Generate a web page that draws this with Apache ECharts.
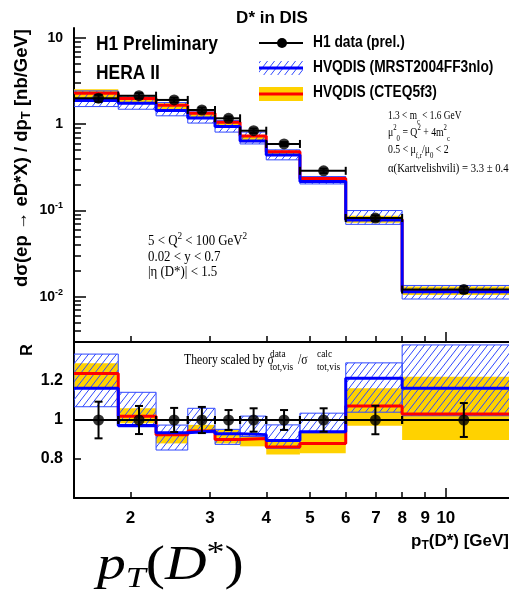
<!DOCTYPE html>
<html>
<head>
<meta charset="utf-8">
<script src="https://cdn.jsdelivr.net/npm/echarts@6/dist/echarts.min.js"></script>
<style>
  html, body { margin: 0; padding: 0; background: #fff; }
  #chart { width: 509px; height: 592px; }
</style>
</head>
<body>
<div id="chart"></div>
<script>
// pT(D*) bins [GeV]
const binEdges = [1.5, 1.88, 2.28, 2.68, 3.08, 3.5, 4.0, 4.75, 6.0, 8.0, 15.0]
const binCenters = [1.70, 2.09, 2.50, 2.88, 3.30, 3.75, 4.38, 5.36, 6.98, 10.96]

// H1 data (prel.), dsigma/dpT [nb/GeV]
const dataXsec = [2.0, 2.14, 1.91, 1.46, 1.17, 0.84, 0.59, 0.288, 0.0817, 0.0121]
const dataRelErr = [0.094, 0.072, 0.062, 0.067, 0.051, 0.06, 0.051, 0.06, 0.073, 0.087]

// HVQDIS (MRST2004FF3nlo)
const mrstHigh = [2.43, 2.13, 1.78, 1.39, 1.10, 0.81, 0.504, 0.247, 0.0997, 0.0135]
const mrstCentral = [1.88, 1.75, 1.44, 1.18, 0.94, 0.64, 0.44, 0.216, 0.0776, 0.0114]
const mrstLow = [1.60, 1.49, 1.25, 1.03, 0.81, 0.59, 0.386, 0.203, 0.069, 0.0094]

// HVQDIS (CTEQ5f3)
const cteqHigh = [2.54, 2.09, 1.75, 1.39, 1.08, 0.75, 0.494, 0.243, 0.0866, 0.0131]
const cteqCentral = [2.29, 1.98, 1.66, 1.34, 1.05, 0.73, 0.478, 0.235, 0.0788, 0.0118]
const cteqLow = [1.88, 1.75, 1.44, 1.18, 0.94, 0.62, 0.44, 0.216, 0.0718, 0.0105]

// ratio panel R
const ratioData = [1, 1, 1, 1, 1, 1, 1, 1, 1, 1]
const ratioMrstHigh = [1.338, 1.142, 0.974, 1.06, 0.952, 1.02, 0.975, 1.035, 1.293, 1.385]
const ratioMrstCentral = [1.163, 0.972, 0.935, 0.944, 0.93, 0.925, 0.895, 0.94, 1.214, 1.163]
const ratioMrstLow = [1.068, 0.965, 0.846, 0.935, 0.875, 0.915, 0.855, 0.935, 1.04, 1.022]
const ratioCteqHigh = [1.291, 1.06, 0.935, 0.975, 0.95, 0.92, 0.895, 0.94, 1.163, 1.222]
const ratioCteqCentral = [1.239, 1.019, 0.925, 0.943, 0.90, 0.905, 0.862, 0.88, 1.072, 1.031]
const ratioCteqLow = [1.163, 0.983, 0.88, 0.935, 0.88, 0.865, 0.823, 0.83, 0.97, 0.897]

// ticks
const xTickLabels = [2, 3, 4, 5, 6, 7, 8, 9, 10]
const xMajorTicks = [10]
const yDecades = [-3, -2, -1, 0, 1]
const yMinorSteps = [2, 3, 4, 5, 6, 7, 8, 9]
const ratioTicks = [0.8, 1, 1.2]

const lg = Math.log10
const id = (v) => v
const xMin = lg(1.5)
const xMax = lg(13.8)
const yMin = -2.525
const yMax = 1.115

const BLACK = '#000'
const YELLOW = '#ffd200'
const RED = '#ff0000'
const BLUE = '#0000ff'
const HATCH = '#3048ff'
const SANS = 'Liberation Sans'
const SERIF = 'Liberation Serif'

// hatch pattern for the MRST band
const makeHatch = () => {
  const w = 7, h = 9
  const c = document.createElement('canvas')
  c.width = w
  c.height = h
  const ctx = c.getContext('2d')
  ctx.strokeStyle = HATCH
  ctx.lineWidth = 1
  ctx.beginPath()
  for (const dx of [-w, 0, w]) {
    ctx.moveTo(dx, h)
    ctx.lineTo(dx + w, 0)
  }
  ctx.stroke()
  return c
}
const hatch = { image: makeHatch(), repeat: 'repeat' }

// helpers building series data from the arrays
const bandItems = (low, high, tf) =>
  low.map((v, i) => [lg(binEdges[i]), lg(binEdges[i + 1]), tf(v), tf(high[i])])
const stepItems = (vals, tf) =>
  binEdges.map((e, i) => [lg(e), tf(vals[Math.min(i, vals.length - 1)])])
const dataItems = (vals, tf) =>
  vals.map((v, i) => [lg(binEdges[i]), lg(binEdges[i + 1]), lg(binCenters[i]), tf(v),
    tf(v * (1 - dataRelErr[i])), tf(v * (1 + dataRelErr[i]))])

const bandRender = (fill, stroke) => (params, api) => {
  const p0 = api.coord([api.value(0), api.value(3)])
  const p1 = api.coord([api.value(1), api.value(2)])
  return {
    type: 'rect',
    shape: { x: p0[0], y: p0[1], width: p1[0] - p0[0], height: p1[1] - p0[1] },
    style: { fill, stroke, lineWidth: stroke ? 1 : 0 }
  }
}

const dataRender = (params, api) => {
  const l = api.coord([api.value(0), api.value(3)])
  const r = api.coord([api.value(1), api.value(3)])
  const lo = api.coord([api.value(2), api.value(4)])
  const hi = api.coord([api.value(2), api.value(5)])
  const st = { stroke: BLACK, lineWidth: 2 }
  const seg = (x1, y1, x2, y2) => ({ type: 'line', shape: { x1, y1, x2, y2 }, style: st })
  const cx = lo[0]
  return {
    type: 'group',
    children: [
      seg(l[0], l[1], r[0], r[1]),
      seg(l[0], l[1] - 4, l[0], l[1] + 4),
      seg(r[0], r[1] - 4, r[0], r[1] + 4),
      seg(cx, lo[1], cx, hi[1]),
      seg(cx - 4, lo[1], cx + 4, lo[1]),
      seg(cx - 4, hi[1], cx + 4, hi[1])
    ]
  }
}

const panelSeries = (xi, yi, tf, sets) => [
  {
    type: 'custom', xAxisIndex: xi, yAxisIndex: yi, clip: true, z: 1,
    renderItem: bandRender(YELLOW, null),
    encode: { x: [0, 1], y: [2, 3] },
    data: bandItems(sets.cteqLow, sets.cteqHigh, tf)
  },
  {
    type: 'custom', xAxisIndex: xi, yAxisIndex: yi, clip: true, z: 2,
    renderItem: bandRender(hatch, HATCH),
    encode: { x: [0, 1], y: [2, 3] },
    data: bandItems(sets.mrstLow, sets.mrstHigh, tf)
  },
  {
    type: 'line', xAxisIndex: xi, yAxisIndex: yi, step: 'end', symbol: 'none', z: 3,
    lineStyle: { color: RED, width: 3 },
    data: stepItems(sets.cteqCentral, tf)
  },
  {
    type: 'line', xAxisIndex: xi, yAxisIndex: yi, step: 'end', symbol: 'none', z: 4,
    lineStyle: { color: BLUE, width: 3 },
    data: stepItems(sets.mrstCentral, tf)
  },
  {
    type: 'custom', xAxisIndex: xi, yAxisIndex: yi, clip: true, z: 5,
    renderItem: dataRender,
    encode: { x: [0, 1, 2], y: [3, 4, 5] },
    data: dataItems(sets.data, tf)
  },
  {
    type: 'scatter', xAxisIndex: xi, yAxisIndex: yi, z: 6,
    symbol: 'circle', symbolSize: 11,
    itemStyle: { color: BLACK },
    data: sets.data.map((v, i) => [lg(binCenters[i]), tf(v)])
  }
]

const xMinorVals = xTickLabels.filter((v) => !xMajorTicks.includes(v)).map(lg)
const yMinorVals = []
yDecades.forEach((d) => yMinorSteps.forEach((k) => {
  const v = d + lg(k)
  if (v > yMin && v < yMax) yMinorVals.push(v)
}))
const yMajorVals = yDecades.filter((d) => d >= yMin && d <= yMax)

const axisLineStyle = { color: BLACK, width: 2 }
const xAxisFor = (gridIndex, ticks, len, withLine, withLabels) => ({
  type: 'value', gridIndex, position: 'bottom', min: xMin, max: xMax,
  splitLine: { show: false },
  axisLine: { show: withLine, onZero: false, lineStyle: axisLineStyle },
  axisTick: { show: true, inside: true, length: len, customValues: ticks, lineStyle: { color: BLACK, width: 1.5 } },
  axisLabel: withLabels ? {
    customValues: xTickLabels.map(lg),
    formatter: (v) => String(Math.round(Math.pow(10, v))),
    color: BLACK, fontFamily: SANS, fontWeight: 'bold', fontSize: 17, margin: 12
  } : { show: false }
})

const supLabel = (v) => {
  if (v === 0) return '{b|1}'
  if (v === 1) return '{b|10}'
  return '{b|10}{s|' + v + '}'
}

const option = {
  animation: false,
  backgroundColor: '#fff',
  grid: [
    { left: 74, top: 28, width: 435, height: 314 },
    { left: 74, top: 342, width: 435, height: 156 }
  ],
  xAxis: [
    xAxisFor(0, xMinorVals, 6, true, false),
    xAxisFor(0, xMajorTicks.map(lg), 10, false, false),
    xAxisFor(1, xMinorVals, 6, true, true),
    xAxisFor(1, xMajorTicks.map(lg), 10, false, false)
  ],
  yAxis: [
    {
      type: 'value', gridIndex: 0, position: 'left', min: yMin, max: yMax,
      splitLine: { show: false },
      axisLine: { show: true, onZero: false, lineStyle: axisLineStyle },
      axisTick: { inside: true, length: 12, customValues: yMajorVals, lineStyle: { color: BLACK, width: 1.5 } },
      axisLabel: {
        customValues: yMajorVals,
        formatter: supLabel,
        margin: 11,
        rich: {
          b: { fontFamily: SANS, fontWeight: 'bold', fontSize: 14, color: BLACK, lineHeight: 18 },
          s: { fontFamily: SANS, fontWeight: 'bold', fontSize: 9, color: BLACK, lineHeight: 8, verticalAlign: 'top' }
        }
      }
    },
    {
      type: 'value', gridIndex: 0, position: 'left', min: yMin, max: yMax,
      splitLine: { show: false },
      axisLine: { show: false, onZero: false },
      axisTick: { inside: true, length: 7, customValues: yMinorVals, lineStyle: { color: BLACK, width: 1.5 } },
      axisLabel: { show: false }
    },
    {
      type: 'value', gridIndex: 1, position: 'left', min: 0.6, max: 1.4,
      splitLine: { show: false },
      axisLine: { show: true, onZero: false, lineStyle: axisLineStyle },
      axisTick: { inside: true, length: 7, customValues: ratioTicks, lineStyle: { color: BLACK, width: 1.5 } },
      axisLabel: {
        customValues: ratioTicks,
        formatter: (v) => (Math.abs(v - 1) < 1e-9 ? '1' : v.toFixed(1)),
        color: BLACK, fontFamily: SANS, fontWeight: 'bold', fontSize: 16, margin: 11
      }
    }
  ],
  series: [
    ...panelSeries(0, 0, lg, {
      cteqLow, cteqHigh, cteqCentral, mrstLow, mrstHigh, mrstCentral, data: dataXsec
    }),
    ...panelSeries(2, 2, id, {
      cteqLow: ratioCteqLow, cteqHigh: ratioCteqHigh, cteqCentral: ratioCteqCentral,
      mrstLow: ratioMrstLow, mrstHigh: ratioMrstHigh, mrstCentral: ratioMrstCentral,
      data: ratioData
    })
  ],
  graphic: []
}

// texts and legend
const txt = (x, y, text, o = {}) => ({
  type: 'text', x, y, z: 100,
  scaleX: o.scaleX || 1,
  rotation: o.rotation || 0,
  style: {
    text,
    fill: BLACK,
    fontFamily: o.family || SANS,
    fontSize: o.size || 14,
    fontWeight: o.weight || 'normal',
    fontStyle: o.style || 'normal',
    lineHeight: o.lineHeight,
    align: o.align || 'left',
    verticalAlign: 'middle',
    textAlign: o.align || 'left',
    textVerticalAlign: 'middle',
    rich: o.rich
  }
})
const richScript = (family, size, weight, lh) => ({
  n: { fontFamily: family, fontSize: size, fontWeight: weight, lineHeight: lh, fill: BLACK },
  sub: { fontFamily: family, fontSize: Math.round(size * 0.68), fontWeight: weight, lineHeight: 6, verticalAlign: 'bottom', fill: BLACK },
  sup: { fontFamily: family, fontSize: Math.round(size * 0.68), fontWeight: weight, lineHeight: 6, verticalAlign: 'top', fill: BLACK }
})
const serifRich = richScript(SERIF, 13, 'normal', 20)
const serifRich14 = richScript(SERIF, 14, 'normal', 20)
const serifSmall = { family: SERIF, size: 11, scaleX: 0.85 }

const legendX0 = 259
const legendX1 = 303
option.graphic = [
  txt(272, 18, 'D* in DIS', { size: 17, weight: 'bold', align: 'center' }),
  txt(96, 44, 'H1 Preliminary', { size: 20, weight: 'bold', scaleX: 0.87 }),
  txt(96, 73, 'HERA II', { size: 20, weight: 'bold', scaleX: 0.87 }),

  { type: 'line', z: 100, shape: { x1: legendX0, y1: 43, x2: legendX1, y2: 43 }, style: { stroke: BLACK, lineWidth: 2 } },
  { type: 'circle', z: 101, shape: { cx: 282, cy: 43, r: 5 }, style: { fill: BLACK } },
  { type: 'rect', z: 100, shape: { x: legendX0, y: 61, width: legendX1 - legendX0, height: 14 }, style: { fill: hatch } },
  { type: 'line', z: 101, shape: { x1: legendX0, y1: 68, x2: legendX1, y2: 68 }, style: { stroke: BLUE, lineWidth: 3 } },
  { type: 'rect', z: 100, shape: { x: legendX0, y: 87, width: legendX1 - legendX0, height: 14 }, style: { fill: YELLOW } },
  { type: 'line', z: 101, shape: { x1: legendX0, y1: 94, x2: legendX1, y2: 94 }, style: { stroke: RED, lineWidth: 3 } },
  txt(313, 43, 'H1 data (prel.)', { size: 16, weight: 'bold', scaleX: 0.86 }),
  txt(313, 68, 'HVQDIS (MRST2004FF3nlo)', { size: 16, weight: 'bold', scaleX: 0.86 }),
  txt(313, 93, 'HVQDIS (CTEQ5f3)', { size: 16, weight: 'bold', scaleX: 0.86 }),

  txt(388, 116, '{n|1.3 < m}{sub|c}{n| < 1.6 GeV}', { family: SERIF, size: 13, rich: serifRich, scaleX: 0.72 }),
  txt(388, 133, '{n|μ}{sup|2}{sub|0}{n| = Q}{sup|2}{n| + 4m}{sup|2}{sub|c}', { family: SERIF, size: 13, rich: serifRich, scaleX: 0.75 }),
  txt(388, 150, '{n|0.5 < μ}{sub|f,r}{n|/μ}{sub|0}{n| < 2}', { family: SERIF, size: 13, rich: serifRich, scaleX: 0.75 }),
  txt(388, 169, 'α(Kartvelishvili) = 3.3 ± 0.4', { family: SERIF, size: 13, scaleX: 0.82 }),

  txt(148, 241, '{n|5 < Q}{sup|2}{n| < 100 GeV}{sup|2}', { family: SERIF, size: 14, rich: serifRich14, scaleX: 0.92 }),
  txt(148, 257, '0.02 < y < 0.7', { family: SERIF, size: 14, scaleX: 0.92 }),
  txt(148, 272, '|η (D*)| < 1.5', { family: SERIF, size: 14, scaleX: 0.92 }),

  // ratio panel note, with stacked scripts
  txt(184, 360, 'Theory scaled by σ', { family: SERIF, size: 15, scaleX: 0.78 }),
  txt(270, 354, 'data', serifSmall),
  txt(270, 367, 'tot,vis', serifSmall),
  txt(298, 360, '/σ', { family: SERIF, size: 15, scaleX: 0.78 }),
  txt(317, 354, 'calc', serifSmall),
  txt(317, 367, 'tot,vis', serifSmall),

  txt(22, 158, '{n|dσ(ep → eD*X) / dp}{sub|T}{n| [nb/GeV]}', { size: 18.5, weight: 'bold', rich: richScript(SANS, 18.5, 'bold', 22), rotation: Math.PI / 2, align: 'center' }),
  txt(28, 350, 'R', { size: 16, weight: 'bold', rotation: Math.PI / 2, align: 'center' }),
  txt(509, 541, '{n|p}{sub|T}{n|(D*) [GeV]}', { size: 17, weight: 'bold', rich: richScript(SANS, 17, 'bold', 22), align: 'right' }),

  txt(97, 566, '{i|p}{t|T}{u|(}{i|D}{s|*}{u|)}', {
    family: SERIF, size: 48, scaleX: 1.2,
    rich: {
      i: { fontFamily: SERIF, fontSize: 48, fontStyle: 'italic', lineHeight: 56, fill: BLACK },
      u: { fontFamily: SERIF, fontSize: 48, lineHeight: 56, fill: BLACK },
      t: { fontFamily: SERIF, fontSize: 30, fontStyle: 'italic', lineHeight: 24, verticalAlign: 'bottom', fill: BLACK },
      s: { fontFamily: SERIF, fontSize: 30, lineHeight: 30, verticalAlign: 'top', fill: BLACK }
    }
  })
]

const chart = echarts.init(document.getElementById('chart'))
chart.setOption(option)
</script>
</body>
</html>
